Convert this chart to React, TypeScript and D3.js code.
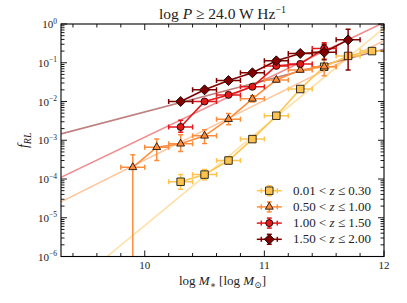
import React from 'react';
import * as d3 from 'd3';

// stellar-mass bins (log M*) and radio-loud fractions per redshift bin
const mass1 = [10.3, 10.5, 10.7, 10.9, 11.1, 11.3, 11.5, 11.7, 11.9];
const frac1 = [8.5e-5, 1.3e-4, 3.0e-4, 1.07e-3, 4.3e-3, 2.1e-2, 7.9e-2, 0.15, 0.2];
const lo1 = [5.4e-5, 9.5e-5, 2.4e-4, 9.2e-4, 3.8e-3, 1.85e-2, 7.0e-2, 0.13, 0.18];
const hi1 = [1.3e-4, 1.75e-4, 3.7e-4, 1.25e-3, 4.9e-3, 2.4e-2, 8.9e-2, 0.17, 0.22];

const mass2 = [9.9, 10.1, 10.3, 10.5, 10.7, 10.9, 11.1, 11.3, 11.5];
const frac2 = [2.0e-4, 6.6e-4, 8.1e-4, 1.3e-3, 3.5e-3, 1.17e-2, 3.6e-2, 6.5e-2, 7.9e-2];
const lo2 = [1e-7, 3.0e-4, 5.1e-4, 8.3e-4, 2.5e-3, 9.7e-3, 3.15e-2, 5.7e-2, 4.6e-2];
const hi2 = [4.2e-4, 1.07e-3, 1.38e-3, 1.86e-3, 4.9e-3, 1.4e-2, 4.1e-2, 7.4e-2, 0.126];

const mass3 = [10.3, 10.5, 10.7, 10.9, 11.1, 11.3, 11.5];
const frac3 = [2.2e-3, 1.0e-2, 1.48e-2, 2.4e-2, 8.3e-2, 9.3e-2, 0.234];
const lo3 = [1.6e-3, 8.9e-3, 1.3e-2, 2.1e-2, 7.4e-2, 8.1e-2, 0.165];
const hi3 = [3.3e-3, 1.12e-2, 1.7e-2, 2.7e-2, 9.3e-2, 0.107, 0.33];

const mass4 = [10.3, 10.5, 10.7, 10.9, 11.1, 11.3, 11.5, 11.7];
const frac4 = [1.0e-2, 2.0e-2, 3.47e-2, 5.5e-2, 0.112, 0.174, 0.186, 0.39];
const lo4 = [8.9e-3, 1.8e-2, 3.1e-2, 4.9e-2, 0.1, 0.155, 0.12, 0.065];
const hi4 = [1.12e-2, 2.2e-2, 3.9e-2, 6.2e-2, 0.126, 0.195, 0.3, 0.73];

const massErr = 0.1;

// power-law fits: log10 f = fitA + fitB * (logM - 10)
const fitA = [-5.2, -3.51, -2.92, -2.27];
const fitB = [2.55, 1.54, 1.48, 0.81];

const zLow = ['0.01', '0.50', '1.00', '1.50'];
const zHigh = ['0.30', '1.00', '1.50', '2.00'];
const colors = ['#fec44f', '#fd8d3c', '#e31a1c', '#800000'];
const shapes = ['square', 'triangle', 'circle', 'diamond'];

const xMajor = [10, 11, 12];
const yExp = [0, -1, -2, -3, -4, -5, -6];

const series = [
  { m: mass1, f: frac1, lo: lo1, hi: hi1 },
  { m: mass2, f: frac2, lo: lo2, hi: hi2 },
  { m: mass3, f: frac3, lo: lo3, hi: hi3 },
  { m: mass4, f: frac4, lo: lo4, hi: hi4 },
];

const width = 407, height = 303;
const margin = { top: 24, right: 23, bottom: 46.5, left: 61 };
const x0 = margin.left, x1 = width - margin.right;
const y0 = margin.top, y1 = height - margin.bottom;

const sym = (shape: string) => {
  if (shape === 'square') return d3.symbol(d3.symbolSquare, 56)();
  if (shape === 'triangle') return d3.symbol(d3.symbolTriangle, 27)();
  if (shape === 'circle') return d3.symbol(d3.symbolCircle, 39)();
  return d3.symbol(d3.symbolSquare, 50)();
};

function Marker({ shape, cx, cy, color }: any) {
  return (
    <path d={sym(shape) as string} transform={`translate(${cx},${cy})` + (shape === 'diamond' ? ' rotate(45)' : '')}
      fill={color} stroke="#000" strokeWidth={0.8} />
  );
}

export default function App() {
  const xScale = d3.scaleLinear().domain([9.3, 12]).range([x0, x1]);
  const yScale = d3.scaleLog().domain([1e-6, 1]).range([y1, y0]);

  const line = d3.line<[number, number]>().x(d => xScale(d[0])).y(d => yScale(d[1]));

  const xMinor = d3.range(9.4, 12, 0.2).filter(v => Math.abs(v - Math.round(v)) > 0.01);
  const yMinor: number[] = [];
  yExp.slice(1).forEach(e => { for (let k = 2; k <= 9; k++) yMinor.push(k * Math.pow(10, e)); });

  const font = 'Liberation Serif, DejaVu Serif, serif';
  const cap = 2.5;

  return (
    <svg width={width} height={height} style={{ position: 'absolute', left: 0, top: 0, background: '#fff' }} fontFamily={font}>
      <defs>
        <clipPath id="plotclip"><rect x={x0} y={y0} width={x1 - x0} height={y1 - y0} /></clipPath>
      </defs>

      {/* fits */}
      <g clipPath="url(#plotclip)">
        {fitA.map((a, i) => {
          const pts: [number, number][] = xScale.domain().map(m => [m, Math.pow(10, a + fitB[i] * (m - 10))]);
          return <path key={'fit' + i} d={line(pts) as string} fill="none" stroke={colors[i]} strokeOpacity={0.5} strokeWidth={1.6} />;
        })}
      </g>

      {/* data */}
      <g clipPath="url(#plotclip)">
        {series.map((s, i) => {
          const pts: [number, number][] = s.m.map((m, j) => [m, s.f[j]]);
          return (
            <g key={'s' + i}>
              <path d={line(pts) as string} fill="none" stroke={colors[i]} strokeWidth={1.6} />
              {s.m.map((m, j) => {
                const cx = xScale(m), cy = yScale(s.f[j]);
                const xl = xScale(m - massErr), xr = xScale(m + massErr);
                const yt = yScale(s.hi[j]), yb = yScale(s.lo[j]);
                return (
                  <g key={j} stroke={colors[i]} strokeWidth={1.5}>
                    <line x1={xl} x2={xr} y1={cy} y2={cy} />
                    <line x1={xl} x2={xl} y1={cy - cap} y2={cy + cap} />
                    <line x1={xr} x2={xr} y1={cy - cap} y2={cy + cap} />
                    <line x1={cx} x2={cx} y1={yt} y2={yb} />
                    <line x1={cx - cap} x2={cx + cap} y1={yt} y2={yt} />
                    <line x1={cx - cap} x2={cx + cap} y1={yb} y2={yb} />
                  </g>
                );
              })}
              {s.m.map((m, j) => (
                <Marker key={'m' + j} shape={shapes[i]} cx={xScale(m)} cy={yScale(s.f[j])} color={colors[i]} />
              ))}
            </g>
          );
        })}
      </g>

      {/* frame and ticks */}
      <rect x={x0} y={y0} width={x1 - x0} height={y1 - y0} fill="none" stroke="#000" strokeWidth={1.1} />
      <g stroke="#000" strokeWidth={0.9}>
        {xMajor.map(v => (
          <g key={'xM' + v}>
            <line x1={xScale(v)} x2={xScale(v)} y1={y1} y2={y1 - 6} />
            <line x1={xScale(v)} x2={xScale(v)} y1={y0} y2={y0 + 6} />
          </g>
        ))}
        {xMinor.map(v => (
          <g key={'xm' + v}>
            <line x1={xScale(v)} x2={xScale(v)} y1={y1} y2={y1 - 3.5} />
            <line x1={xScale(v)} x2={xScale(v)} y1={y0} y2={y0 + 3.5} />
          </g>
        ))}
        {yExp.map(e => (
          <g key={'yM' + e}>
            <line x1={x0} x2={x0 + 6} y1={yScale(Math.pow(10, e))} y2={yScale(Math.pow(10, e))} />
            <line x1={x1} x2={x1 - 6} y1={yScale(Math.pow(10, e))} y2={yScale(Math.pow(10, e))} />
          </g>
        ))}
        {yMinor.map((v, k) => (
          <g key={'ym' + k}>
            <line x1={x0} x2={x0 + 3.5} y1={yScale(v)} y2={yScale(v)} />
            <line x1={x1} x2={x1 - 3.5} y1={yScale(v)} y2={yScale(v)} />
          </g>
        ))}
      </g>

      {/* tick labels */}
      {xMajor.map(v => (
        <text key={'xl' + v} x={xScale(v)} y={y1 + 12} textAnchor="middle" fontSize={11} fill="#222">{v}</text>
      ))}
      {yExp.map(e => (
        <text key={'yl' + e} x={x0 - 4} y={yScale(Math.pow(10, e)) + 4} textAnchor="end" fontSize={11} fill="#222">
          10<tspan fontSize={7.5} dy={-4.5}>{e === 0 ? '0' : '\u2212' + Math.abs(e)}</tspan>
        </text>
      ))}

      {/* axis labels and title */}
      <text x={(x0 + x1) / 2} y={19} textAnchor="middle" fontSize={15.5} fill="#222">
        log <tspan fontStyle="italic">P</tspan> ≥ 24.0 W Hz<tspan fontSize={10} dy={-6}>−1</tspan>
      </text>
      <text x={(x0 + x1) / 2} y={285} textAnchor="middle" fontSize={13} fill="#222">
        log <tspan fontStyle="italic">M</tspan><tspan fontSize={9} dy={3}>∗</tspan><tspan dy={-3}> [log </tspan>
        <tspan fontStyle="italic">M</tspan><tspan fontSize={9} dy={3}>⊙</tspan><tspan dy={-3}>]</tspan>
      </text>
      <text transform={`translate(28,${(y0 + y1) / 2}) rotate(-90)`} textAnchor="middle" fontSize={14} fill="#222">
        <tspan fontStyle="italic">f</tspan><tspan fontSize={10} fontStyle="italic" dy={3}>RL</tspan>
      </text>

      {/* legend */}
      {zLow.map((z, i) => {
        const cy = 190.7 + i * 16.2, cx = 269.3;
        return (
          <g key={'lg' + i}>
            <g stroke={colors[i]} strokeWidth={1.5}>
              <line x1={cx - 12.5} x2={cx + 12.5} y1={cy} y2={cy} />
              <line x1={cx - 8} x2={cx - 8} y1={cy - cap} y2={cy + cap} />
              <line x1={cx + 8} x2={cx + 8} y1={cy - cap} y2={cy + cap} />
              <line x1={cx} x2={cx} y1={cy - 5} y2={cy + 5} />
              <line x1={cx - cap} x2={cx + cap} y1={cy - 5} y2={cy - 5} />
              <line x1={cx - cap} x2={cx + cap} y1={cy + 5} y2={cy + 5} />
            </g>
            <Marker shape={shapes[i]} cx={cx} cy={cy} color={colors[i]} />
            <text x={293} y={cy + 4} fontSize={13} fill="#222">
              {z} &lt; <tspan fontStyle="italic">z</tspan> ≤ {zHigh[i]}
            </text>
          </g>
        );
      })}
    </svg>
  );
}
